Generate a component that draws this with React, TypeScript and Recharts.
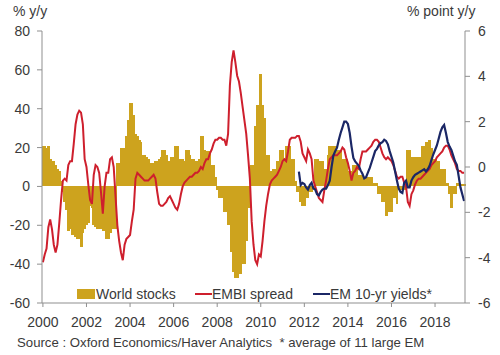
import React from "react";
import { ComposedChart, Bar, Line, XAxis, YAxis, Legend } from "recharts";

// monthly, Jan 2000 .. May 2019
const START_YEAR = 2000;
const MONTH_COUNT = 233;

const months: string[] = [];
for (let i = 0; i < MONTH_COUNT; i++) {
  const y = START_YEAR + Math.floor(i / 12);
  const m = (i % 12) + 1;
  months.push(`${y}-${m < 10 ? "0" + m : m}`);
}

// World stocks, % y/y (left axis)
const worldStocks = [
  21, 21, 20, 21, 14, 13, 13, 11, 9, 8, 3, -3, // 2000
  -8, -12, -23, -22, -25, -25, -26, -27, -27, -31, -24, -22, // 2001
  -20, -19, -10, -11, -20, -21, -22, -22, -22, -23, -23, -27, // 2002
  -27, -24, -22, -22, -22, 12, 12, 20, 20, 20, 26, 34, // 2003
  43, 43, 37, 27, 26, 24, 23, 16, 16, 15, 14, 12, // 2004
  11, 12, 13, 13, 14, 15, 19, 19, 16, 13, 13, 15, // 2005
  15, 21, 21, 14, 14, 14, 13, 19, 19, 16, 14, 14, // 2006
  13, 13, 14, 26, 26, 19, 18, 18, 18, 11, 11, 5, // 2007
  -2, -6, -6, -6, -13, -13, -20, -20, -34, -44, -47, -47, // 2008
  -45, -45, -40, -40, -28, -11, -11, 11, 11, 31, 42, 42, // 2009
  58, 42, 35, 16, 16, 8, 8, 9, 9, 13, 13, 19, // 2010
  19, 14, 21, 21, 21, 14, 14, 3, -3, -3, -8, -10, // 2011
  -10, -6, -6, -3, -3, -1, 14, 14, 13, 13, 13, 9, // 2012
  9, 16, 21, 21, 21, 21, 19, 19, 19, 14, 14, 14, // 2013
  8, 8, 8, 11, 11, 11, 6, 6, 6, 5, 5, 5, // 2014
  5, 5, 2, 2, 2, -4, -4, -8, -8, -15, -13, -13, // 2015
  -13, -6, -6, -9, -2, -2, -2, -2, 2, 19, 19, 15, // 2016
  15, 15, 15, 15, 15, 21, 21, 23, 23, 24, 20, 14, // 2017
  14, 13, 13, 9, 9, 9, 2, 2, -4, -11, -4, -4, // 2018
  2, 2, 1.5, 1.5, 1.5, // 2019
];

// EMBI spread, % y/y (left axis)
const embiSpread = [
  -39, -35, -32, -21, -17, -22, -30, -34, -30, -19, -7, 3, // 2000
  4, 3, 11, 13, 13, 22, 32, 37, 39, 38, 32, 14, // 2001
  10, 1, -7, -9, 6, 11, 10, 7, -3, -14, 0, 7, // 2002
  7, 14, 15, 10, -5, -20, -28, -34, -38, -30, -27, -26, // 2003
  -25, -18, -12, 4, 7, 6, 5, 4, 3, 3, 3, 4, // 2004
  5, 6, 4, -3, -9, -10, -10, -9, -8, -6, -5, -7, // 2005
  -9, -11, -12, -9, -4, 0, 2, 3, 4, 5, 5, 6, // 2006
  7, 7, 8, 10, 9, 12, 14, 14, 17, 19, 22, 24, // 2007
  24, 25, 25, 24, 24, 21, 27, 52, 64, 70, 64, 57, // 2008
  54, 48, 41, 34, 27, 16, 4, -18, -30, -38, -40, -35, // 2009
  -36, -28, -18, -10, -4, 1, 3, 4, 5, 6, 8, 10, // 2010
  13, 14, 13, 18, 24, 25, 25, 25, 26, 26, 23, 17, // 2011
  15, 13, 19, 17, 14, 3, 0, -3, -6, -7, -8, -2, // 2012
  3, 9, 14, 15, 16, 16, 16, 17, 18, 20, 19, 15, // 2013
  12, 8, 3, 7, 8, 10, 9, 14, 18, 18, 18, 19, // 2014
  20, 21, 23, 24, 24, 23, 20, 17, 15, 14, 15, 14, // 2015
  13, 11, 8, 5, 4, 5, 5, 2, 0, -8, -10, -4, // 2016
  -2, 1, 3, 4, 4, 5, 6, 7, 8, 9, 11, 12, // 2017
  13, 15, 16, 17, 18, 20, 21, 21, 19, 16, 14, 12, // 2018
  9, 8, 8, 7, 7, // 2019
];

// EM 10-yr yields, % point y/y (right axis), from Oct 2011
const yieldsStart = "2011-10";
const emYields = [
  -0.2, -0.8, -0.7, // 2011
  -0.75, -0.9, -1.0, -0.8, -0.7, -0.95, -1.0, -1.2, -1.25, -1.1, -1.0, -0.95, // 2012
  -0.95, -0.8, -0.6, 0.0, 0.5, 0.7, 0.85, 1.2, 1.5, 1.75, 2.0, 2.0, // 2013
  1.9, 1.5, 0.9, 0.4, 0.25, 0.15, 0.05, -0.15, -0.3, -0.5, -0.45, -0.25, // 2014
  -0.05, 0.2, 0.45, 0.7, 0.8, 0.95, 1.05, 1.1, 1.2, 1.15, 1.0, 0.7, // 2015
  0.45, 0.2, -0.2, -0.6, -0.95, -1.1, -1.15, -0.7, -0.6, -0.9, -0.9, -0.6, // 2016
  -0.45, -0.35, -0.3, -0.25, -0.2, -0.15, -0.1, -0.2, -0.1, 0.05, 0.3, 0.55, // 2017
  0.75, 0.95, 1.25, 1.55, 1.75, 1.85, 1.5, 1.1, 0.9, 0.75, 0.5, 0.25, // 2018
  0.1, -0.4, -0.9, -1.2, -1.5, // 2019
];

const leftTicks = [-60, -40, -20, 0, 20, 40, 60, 80];
const rightTicks = [-6, -4, -2, 0, 2, 4, 6];

const GOLD = "#CDA31E";
const RED = "#CE1F2D";
const NAVY = "#1B2766";
const AXIS = "#8f8f8f";
const TEXT = "#3a3a3a";
const FONT = "'Liberation Sans', Arial, sans-serif";

const CHART_W = 500;
const LEFT_W = 42;
const RIGHT_W = 35;
// recharts floors bar widths to whole pixels, so each month is drawn over its full band
const BAND = (CHART_W - LEFT_W - RIGHT_W) / MONTH_COUNT;

const yStartIdx = months.indexOf(yieldsStart);
const data = months.map((m, i) => ({
  month: m,
  stocks: worldStocks[i],
  embi: embiSpread[i],
  yields: i >= yStartIdx ? emYields[i - yStartIdx] : null,
}));

const MonthBar = (props: any) => {
  const { x, y, width, height } = props;
  if (x == null || y == null || height == null) return null;
  const top = Math.min(y, y + height);
  const h = Math.abs(height);
  const cx = x + (width || 0) / 2;
  return (
    <rect
      x={cx - BAND / 2 - 0.5}
      y={top}
      width={BAND + 1}
      height={h}
      fill={GOLD}
      shapeRendering="crispEdges"
    />
  );
};

const LegendContent = () => (
  <div style={{ position: "relative", width: 500, height: 20, fontFamily: FONT, fontSize: 14, color: TEXT }}>
    <div style={{ position: "absolute", left: 77, top: 5, width: 18, height: 10, background: GOLD }} />
    <span style={{ position: "absolute", left: 96, top: 2 }}>World stocks</span>
    <div style={{ position: "absolute", left: 195, top: 9, width: 17, height: 2, background: RED }} />
    <span style={{ position: "absolute", left: 212, top: 2 }}>EMBI spread</span>
    <div style={{ position: "absolute", left: 313, top: 9, width: 17, height: 2, background: NAVY }} />
    <span style={{ position: "absolute", left: 330, top: 2 }}>EM 10-yr yields*</span>
  </div>
);

export default function App() {
  const tickStyle = { fontSize: 14, fill: TEXT, fontFamily: FONT };
  return (
    <div style={{ position: "absolute", left: 0, top: 0, width: 500, height: 355, background: "#fff", fontFamily: FONT }}>
      <ComposedChart
        width={CHART_W}
        height={355}
        data={data}
        margin={{ top: 31, right: 0, bottom: 0, left: 0 }}
        barCategoryGap={0}
        barGap={0}
      >
        <XAxis
          dataKey="month"
          interval={23}
          height={52}
          tickSize={4}
          tickMargin={10}
          tickFormatter={(v: string) => v.slice(0, 4)}
          tick={tickStyle}
          stroke={AXIS}
          axisLine={{ stroke: AXIS }}
          tickLine={{ stroke: AXIS }}
        />
        <YAxis
          yAxisId="left"
          domain={[-60, 80]}
          ticks={leftTicks}
          width={LEFT_W}
          tickSize={5}
          tickMargin={7}
          tick={tickStyle}
          axisLine={{ stroke: AXIS }}
          tickLine={{ stroke: AXIS }}
          allowDataOverflow
        />
        <YAxis
          yAxisId="right"
          orientation="right"
          domain={[-6, 6]}
          ticks={rightTicks}
          width={RIGHT_W}
          tickSize={5}
          tickMargin={8}
          tick={{ ...tickStyle, textAnchor: "start" }}
          axisLine={{ stroke: AXIS }}
          tickLine={{ stroke: AXIS }}
          allowDataOverflow
        />
        <Bar
          yAxisId="left"
          dataKey="stocks"
          name="World stocks"
          fill={GOLD}
          shape={MonthBar}
          isAnimationActive={false}
        />
        <Line
          yAxisId="left"
          type="linear"
          dataKey="embi"
          name="EMBI spread"
          stroke={RED}
          strokeWidth={2}
          dot={false}
          isAnimationActive={false}
        />
        <Line
          yAxisId="right"
          type="linear"
          dataKey="yields"
          name="EM 10-yr yields*"
          stroke={NAVY}
          strokeWidth={2.2}
          dot={false}
          connectNulls={false}
          isAnimationActive={false}
        />
        <Legend
          layout="horizontal"
          verticalAlign="middle"
          align="center"
          wrapperStyle={{ left: 0, top: 284, width: 500, height: 20 }}
          content={() => <LegendContent />}
        />
      </ComposedChart>
      <div style={{ position: "absolute", left: 13, top: 3, fontSize: 14, color: TEXT }}>% y/y</div>
      <div style={{ position: "absolute", left: 407, top: 3, fontSize: 14, color: TEXT }}>% point y/y</div>
      <div style={{ position: "absolute", left: 17, top: 335, fontSize: 13.2, color: TEXT, whiteSpace: "pre" }}>
        {"Source : Oxford Economics/Haver Analytics  * average of 11 large EM"}
      </div>
    </div>
  );
}
